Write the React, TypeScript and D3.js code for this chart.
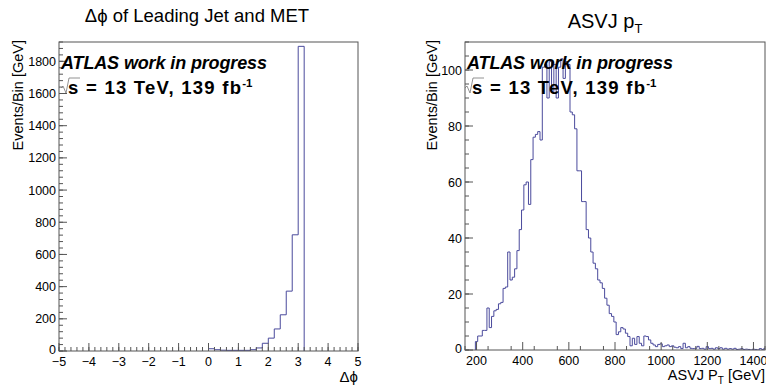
import * as d3 from "d3"

// Δφ(leading jet, MET): bins of 0.2 starting at 0
const dphiBinStart = 0
const dphiBinWidth = 0.2
const dphiCounts = [14, 8, 5, 4, 4, 4, 4, 8, 19, 48, 80, 137, 225, 372, 722, 1893]
const dphiXTicks = [-5, -4, -3, -2, -1, 0, 1, 2, 3, 4, 5]
const dphiYTicks = [0, 200, 400, 600, 800, 1000, 1200, 1400, 1600, 1800]

// ASVJ pT: bins of 10 GeV starting at 195 GeV
const ptBinStart = 195
const ptBinWidth = 10
const ptCounts = [
  3, 5, 5, 7, 7, 15, 8, 12, 14, 14.5, 16.5, 17, 22, 22.5, 35, 25, 26, 29, 35.5, 43,
  50, 59, 60, 52, 68, 76, 77, 78, 75, 101, 102, 90, 103, 92, 102, 90, 101, 104, 97, 103,
  102, 85, 84, 79, 64, 64, 53, 53, 43, 40, 35, 31, 29, 25, 24, 22, 18.5, 16, 13, 12,
  10, 5.5, 6.5, 8, 7.5, 6, 4.8, 1.5, 4.2, 2, 4.8, 2.4, 1.5, 5, 4.8, 3.6, 2.4, 1.8, 1.2, 2,
  2.2, 1.2, 1.5, 1.8, 1.2, 1.5, 1, 0.8, 1.2, 0.5, 2.4, 0.8, 1.2, 0.6, 0.5, 0.6, 1.3, 0.5, 0.6, 0.3,
  1.2, 0.5, 0.6, 0.3, 0.8, 0.5, 0.8, 0.3, 0.6, 0.3, 0.5, 0.3, 0.6, 0.2, 0.3, 0.5, 0.2, 0.3, 0.2, 0,
  0.3, 0.2, 0, 0.5, 0.2, 0.6,
]
const ptXTicks = [200, 400, 600, 800, 1000, 1200, 1400]
const ptYTicks = [0, 20, 40, 60, 80, 100]

const FONT = "'Liberation Sans', Arial, Helvetica, sans-serif"
const FRAME = "#555"
const HIST = "#4a4a9c"

type Frame = { x0: number; x1: number; y0: number; y1: number }

interface PanelProps {
  id: string
  frame: Frame
  xDomain: [number, number]
  yDomain: [number, number]
  binStart: number
  binWidth: number
  counts: number[]
  xTicks: number[]
  yTicks: number[]
  xMinor: number
  yMinor: number
  yLabelX: number
  textDx: number
}

function Panel({ id, frame, xDomain, yDomain, binStart, binWidth, counts, xTicks, yTicks, xMinor, yMinor, yLabelX, textDx }: PanelProps) {
  const x = d3.scaleLinear().domain(xDomain).range([frame.x0, frame.x1])
  const y = d3.scaleLinear().domain(yDomain).range([frame.y1, frame.y0])

  const pts: [number, number][] = [[binStart, 0]]
  counts.forEach((v, i) => {
    pts.push([binStart + i * binWidth, v], [binStart + (i + 1) * binWidth, v])
  })
  pts.push([binStart + counts.length * binWidth, 0])
  const line = d3.line<[number, number]>().x(d => x(d[0])).y(d => y(d[1]))

  const xm = d3.range(xDomain[0], xDomain[1] + 1e-9, xMinor)
  const ym = d3.range(yDomain[0], yDomain[1] + 1e-9, yMinor)
  const fmt = (v: number) => String(v).replace("-", "\u2212")
  const sx = frame.x0 + textDx

  return (
    <g>
      <defs>
        <clipPath id={id}>
          <rect x={frame.x0} y={frame.y0} width={frame.x1 - frame.x0} height={frame.y1 - frame.y0} />
        </clipPath>
      </defs>
      <path d={line(pts) ?? ""} fill="none" stroke={HIST} strokeWidth={1} clipPath={`url(#${id})`} />
      <rect x={frame.x0} y={frame.y0} width={frame.x1 - frame.x0} height={frame.y1 - frame.y0} fill="none" stroke={FRAME} strokeWidth={1} />
      {xm.map((v, i) => (
        <line key={"xm" + i} x1={x(v)} x2={x(v)} y1={frame.y1} y2={frame.y1 - 4} stroke={FRAME} />
      ))}
      {xTicks.map(v => (
        <g key={"xt" + v}>
          <line x1={x(v)} x2={x(v)} y1={frame.y1} y2={frame.y1 - 8} stroke={FRAME} />
          <text x={x(v)} y={frame.y1 + 14.5} textAnchor="middle" fontSize={12.5}>{fmt(v)}</text>
        </g>
      ))}
      {ym.map((v, i) => (
        <line key={"ym" + i} x1={frame.x0} x2={frame.x0 + 4} y1={y(v)} y2={y(v)} stroke={FRAME} />
      ))}
      {yTicks.map(v => (
        <g key={"yt" + v}>
          <line x1={frame.x0} x2={frame.x0 + 8} y1={y(v)} y2={y(v)} stroke={FRAME} />
          <text x={frame.x0 - 3} y={y(v) + (v === 0 ? 2.5 : 4.5)} textAnchor="end" fontSize={12.5}>{fmt(v)}</text>
        </g>
      ))}
      <text transform={`translate(${yLabelX},${frame.y0 - 2}) rotate(-90)`} textAnchor="end" fontSize={14.5}>Events/Bin [GeV]</text>
      <text x={frame.x0 + 2} y={frame.y0 + 27} fontSize={18} fontWeight="bold" fontStyle="italic" textLength={206} lengthAdjust="spacing">ATLAS work in progress</text>
      <path d={`M${sx - 7},${frame.y0 + 46} l2,-2 l3,7 l3,-15 h11`} fill="none" stroke="#777" strokeWidth={0.8} />
      <text x={sx} y={frame.y0 + 52} fontSize={18.5} fontWeight="bold">
        <tspan textLength={173} lengthAdjust="spacing">s = 13 TeV, 139 fb</tspan>
        <tspan dy={-7} fontSize={11.5}>-1</tspan>
      </text>
    </g>
  )
}

export default function App() {
  return (
    <svg width={766} height={385} style={{ position: "fixed", left: 0, top: 0, background: "#fff" }} fontFamily={FONT}>
      <rect width={766} height={385} fill="#fff" />
      <text x={197} y={22} textAnchor="middle" fontSize={18.5}>Δϕ of Leading Jet and MET</text>
      <text x={605} y={28} textAnchor="middle" fontSize={20}>
        ASVJ p<tspan dy={5} fontSize={13}>T</tspan>
      </text>
      <Panel id="c1" frame={{ x0: 59, x1: 358, y0: 42, y1: 351 }} xDomain={[-5, 5]} yDomain={[0, 1920]}
        binStart={dphiBinStart} binWidth={dphiBinWidth} counts={dphiCounts}
        xTicks={dphiXTicks} yTicks={dphiYTicks} xMinor={0.2} yMinor={40} yLabelX={23} textDx={9} />
      <Panel id="c2" frame={{ x0: 465, x1: 765, y0: 42, y1: 350 }} xDomain={[150, 1450]} yDomain={[0, 110]}
        binStart={ptBinStart} binWidth={ptBinWidth} counts={ptCounts}
        xTicks={ptXTicks} yTicks={ptYTicks} xMinor={100} yMinor={5} yLabelX={437} textDx={7} />
      <text x={358} y={382} textAnchor="end" fontSize={15}>Δϕ</text>
      <text x={765} y={380} textAnchor="end" fontSize={14.5}>
        ASVJ P<tspan dy={4} fontSize={10}>T</tspan><tspan dy={-4}> [GeV]</tspan>
      </text>
    </svg>
  )
}
